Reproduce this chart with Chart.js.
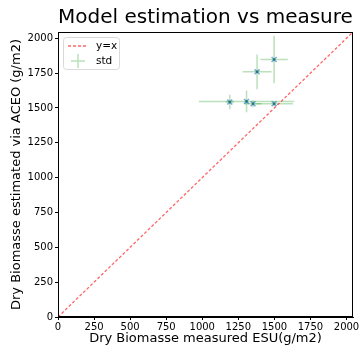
<!DOCTYPE html>
<html>
<head>
<meta charset="utf-8">
<script src="https://cdn.jsdelivr.net/npm/chart.js@4"></script>
<style>
	html, body { margin: 0; padding: 0; background: #fff; }
	#wrap { width: 364px; height: 346px; }
</style>
</head>
<body>
<div id="wrap"><canvas id="fig"></canvas></div>
<script>
// values
const measured = [1498, 1380, 1191, 1307, 1352, 1498];
const estimated = [1848, 1759, 1542, 1547, 1530, 1530];
const measuredStd = [95, 100, 30, 330, 60, 130];
const estimatedStd = [170, 125, 52, 78, 25, 20];
const diagonal = [0, 2045];
const tickValues = [0, 250, 500, 750, 1000, 1250, 1500, 1750, 2000];
const axisMax = 2045;

const titleText = "Model estimation vs measure";
const xLabel = "Dry Biomasse measured ESU(g/m2)";
const yLabel = "Dry Biomasse estimated via ACEO (g/m2)";

const font = "'DejaVu Sans', sans-serif";
const errColor = "rgba(44, 160, 44, 0.32)";

const points = measured.map((x, i) => ({ x: x, y: estimated[i] }));
const lineData = diagonal.map((v) => ({ x: v, y: v }));

// error bars, frame, title and legend, drawn like matplotlib
const mplLook = {
	id: "mplLook",
	beforeDatasetsDraw(chart) {
		const c = chart.ctx;
		const xs = chart.scales.x, ys = chart.scales.y;
		c.save();
		c.strokeStyle = errColor;
		c.lineWidth = 1.5;
		measured.forEach((x, i) => {
			const y = estimated[i];
			c.beginPath();
			c.moveTo(xs.getPixelForValue(x - measuredStd[i]), ys.getPixelForValue(y));
			c.lineTo(xs.getPixelForValue(x + measuredStd[i]), ys.getPixelForValue(y));
			c.moveTo(xs.getPixelForValue(x), ys.getPixelForValue(y - estimatedStd[i]));
			c.lineTo(xs.getPixelForValue(x), ys.getPixelForValue(y + estimatedStd[i]));
			c.stroke();
		});
		c.restore();
	},
	afterDraw(chart) {
		const c = chart.ctx;
		const a = chart.chartArea;
		c.save();
		c.strokeStyle = "#000";
		c.lineWidth = 1;
		c.strokeRect(a.left + 0.5, a.top + 0.5, a.right - a.left - 1, a.bottom - a.top - 1);

		c.fillStyle = "#000";
		c.font = "20px " + font;
		c.textAlign = "center";
		c.textBaseline = "middle";
		c.fillText(titleText, (a.left + a.right) / 2, 18);

		// legend box
		const lx = a.left + 5, ly = a.top + 5;
		c.fillStyle = "rgba(255,255,255,0.8)";
		c.strokeStyle = "#d9d9d9";
		c.beginPath();
		c.roundRect(lx + 0.5, ly + 0.5, 56, 32, 3);
		c.fill();
		c.stroke();
		c.strokeStyle = "rgba(255, 0, 0, 0.6)";
		c.lineWidth = 1.3;
		c.setLineDash([3, 2]);
		c.beginPath();
		c.moveTo(lx + 5, ly + 9);
		c.lineTo(lx + 25, ly + 9);
		c.stroke();
		c.setLineDash([]);
		c.strokeStyle = errColor;
		c.lineWidth = 1.5;
		c.beginPath();
		c.moveTo(lx + 8, ly + 24);
		c.lineTo(lx + 22, ly + 24);
		c.moveTo(lx + 15, ly + 17);
		c.lineTo(lx + 15, ly + 31);
		c.stroke();
		c.fillStyle = "#000";
		c.font = "10.5px " + font;
		c.textAlign = "left";
		c.fillText("y=x", lx + 33, ly + 9);
		c.fillText("std", lx + 33, ly + 24);
		c.restore();
	},
};

const setTicks = (scale) => {
	scale.ticks = tickValues.map((v) => ({ value: v }));
};
const plainLabel = (v) => String(v);

new Chart(document.getElementById("fig"), {
	type: "scatter",
	data: {
		datasets: [
			{
				type: "line",
				label: "y=x",
				data: lineData,
				borderColor: "rgba(255, 0, 0, 0.6)",
				borderWidth: 1.3,
				borderDash: [3, 2],
				pointRadius: 0,
				fill: false,
			},
			{
				label: "points",
				data: points,
				pointStyle: "crossRot",
				pointRadius: 3.5,
				borderColor: "rgba(31, 119, 180, 0.6)",
				backgroundColor: "rgba(31, 119, 180, 0.6)",
				borderWidth: 1.5,
			},
			{
				label: "centres",
				data: points,
				pointStyle: "circle",
				pointRadius: 1.3,
				borderWidth: 0,
				backgroundColor: "rgba(20, 100, 60, 0.85)",
			},
		],
	},
	options: {
		responsive: true,
		maintainAspectRatio: false,
		animation: false,
		layout: {
			padding: { top: 32, right: 11, left: 0, bottom: 0 },
		},
		plugins: {
			legend: { display: false },
			tooltip: { enabled: false },
		},
		scales: {
			x: {
				type: "linear",
				min: 0,
				max: axisMax,
				afterBuildTicks: setTicks,
				afterFit: (s) => { s.height = 29; },
				ticks: {
					maxRotation: 0,
					autoSkip: false,
					color: "#000",
					padding: 1,
					callback: plainLabel,
					font: { family: font, size: 10 },
				},
				grid: { drawOnChartArea: false, tickLength: 3, color: "#000" },
				border: { color: "#000" },
				title: {
					display: true,
					text: xLabel,
					color: "#000",
					padding: { top: 0, bottom: 0 },
					font: { family: font, size: 13 },
				},
			},
			y: {
				type: "linear",
				min: 0,
				max: axisMax,
				afterBuildTicks: setTicks,
				afterFit: (s) => { s.width = 58; },
				ticks: {
					autoSkip: false,
					color: "#000",
					padding: 2,
					callback: plainLabel,
					font: { family: font, size: 10 },
				},
				grid: { drawOnChartArea: false, tickLength: 3, color: "#000" },
				border: { color: "#000" },
				title: {
					display: true,
					text: yLabel,
					color: "#000",
					padding: { top: 9, bottom: 0 },
					font: { family: font, size: 13 },
				},
			},
		},
	},
	plugins: [mplLook],
});
</script>
</body>
</html>
